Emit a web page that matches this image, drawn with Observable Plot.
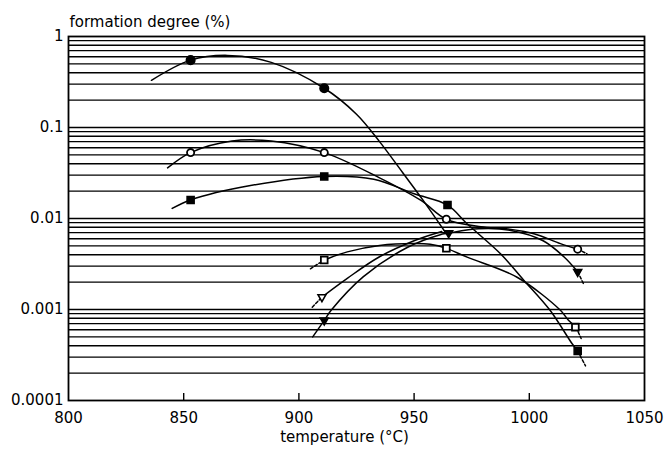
<!DOCTYPE html>
<html>
<head>
<meta charset="utf-8">
<script src="https://cdn.jsdelivr.net/npm/d3@7"></script>
<script src="https://cdn.jsdelivr.net/npm/@observablehq/plot@0.6"></script>
<style>
  html, body { margin: 0; padding: 0; background: #fff; }
  #chart svg { display: block; }
</style>
</head>
<body>
<div id="chart"></div>
<script>
// ---------- texts & ticks ----------
const yTitle = "formation degree (%)";
const xTitle = "temperature (°C)";
const xTicks = [800, 850, 900, 950, 1000, 1050];
const xInnerTicks = [850, 900, 950, 1000];
const yTicks = [1, 0.1, 0.01, 0.001, 0.0001];
const yTickLabels = ["1", "0.1", "0.01", "0.001", "0.0001"];
const gridValues = [
  0.9, 0.8, 0.7, 0.6, 0.5, 0.4, 0.3, 0.2, 0.1,
  0.09, 0.08, 0.07, 0.06, 0.05, 0.04, 0.03, 0.02, 0.01,
  0.009, 0.008, 0.007, 0.006, 0.005, 0.004, 0.003, 0.002, 0.001,
  0.0009, 0.0008, 0.0007, 0.0006, 0.0005, 0.0004, 0.0003, 0.0002
];

// ---------- measured points (temperature, formation degree %) ----------
const filledCircleT = [853, 911];
const filledCircleV = [0.55, 0.27];
const openCircleT = [853, 911, 964, 1021];
const openCircleV = [0.053, 0.053, 0.0098, 0.0046];
const filledSquareT = [853, 911, 964.5, 1021];
const filledSquareV = [0.016, 0.029, 0.0141, 0.00035];
const openSquareT = [911, 964, 1020];
const openSquareV = [0.0035, 0.0047, 0.00064];
const openTriangleT = [910];
const openTriangleV = [0.00137];
const filledTriangleT = [911, 965, 1021];
const filledTriangleV = [0.00076, 0.0069, 0.0026];

// ---------- fitted curves ----------
const curveFilledCircle = [[836,0.33],[853,0.55],[869,0.62],[888,0.52],[911,0.27],[925,0.14],[935,0.07],[945,0.032],[955,0.0145],[964,0.0068]];
const curveOpenCircle = [[843,0.036],[853,0.053],[871,0.071],[888,0.071],[911,0.053],[935,0.028],[953,0.0158],[964,0.0098],[979,0.0081],[990,0.0077],[1002,0.0068],[1013.5,0.0053],[1021,0.0046]];
const curveFilledSquare = [[845,0.0129],[853,0.016],[879,0.023],[911,0.029],[932.5,0.027],[950,0.0187],[964.4,0.0141],[973,0.00875],[987.5,0.0041],[997.6,0.0021],[1009,0.00098],[1018.6,0.00042],[1021,0.00035]];
const curveOpenSquare = [[911,0.0035],[921,0.0043],[935,0.00505],[950,0.0053],[957,0.0052],[964,0.0047],[973,0.00376],[994.7,0.00226],[1013.5,0.00098],[1017,0.00076],[1020.3,0.00064]];
const curveOpenTriangle = [[910,0.00137],[921,0.0022],[935,0.0038],[950,0.0057],[962,0.0072]];
const curveFilledTriangle = [[906,0.0005],[911,0.00076],[914,0.00098],[928,0.0023],[947,0.0048],[961,0.0066],[965,0.0069],[978,0.0077],[992,0.0074],[1006,0.0057],[1015,0.0038],[1021,0.0026]];

// dashed end pieces
const dashOpenSquareStart = [[905,0.0028],[911,0.0035]];
const dashOpenTriangleStart = [[905.8,0.00106],[910,0.00137]];
const dashOpenCircleEnd = [[1021,0.0046],[1025,0.0041]];
const dashFilledTriangleEnd = [[1021,0.0026],[1023.6,0.0019]];
const dashOpenSquareEnd = [[1020.3,0.00064],[1022.5,0.00048]];
const dashFilledSquareEnd = [[1021,0.00035],[1024.4,0.00024]];

// ---------- build tables ----------
function toRows(pairs, key) { return pairs.map(([t, v]) => ({t, v, key})); }
const solidRows = [
  ...toRows(curveFilledCircle, "fc"), ...toRows(curveOpenCircle, "oc"),
  ...toRows(curveFilledSquare, "fs"), ...toRows(curveOpenSquare, "os"),
  ...toRows(curveOpenTriangle, "ot"), ...toRows(curveFilledTriangle, "ft")
];
const dashRows = [
  ...toRows(dashOpenSquareStart, "a"), ...toRows(dashOpenTriangleStart, "b"),
  ...toRows(dashOpenCircleEnd, "c"), ...toRows(dashFilledTriangleEnd, "d"),
  ...toRows(dashOpenSquareEnd, "e"), ...toRows(dashFilledSquareEnd, "f")
];
function pts(T, V) { return T.map((t, i) => ({t, v: V[i]})); }

const triangleDown = {
  draw(context, size) {
    const s = Math.sqrt(size / (3 * Math.sqrt(3) / 4));
    const h = s * Math.sqrt(3) / 2;
    context.moveTo(-s / 2, -h / 3);
    context.lineTo(s / 2, -h / 3);
    context.lineTo(0, 2 * h / 3);
    context.closePath();
  }
};

const lineStyle = {x: "t", y: "v", z: "key", stroke: "#000", strokeWidth: 1.5, curve: "catmull-rom"};

const chart = Plot.plot({
  width: 669,
  height: 468,
  marginLeft: 68,
  marginRight: 25,
  marginTop: 36,
  marginBottom: 68,
  style: {fontFamily: "'DejaVu Sans', sans-serif", fontSize: "15px", color: "#000", background: "#fff"},
  x: {domain: [800, 1050], ticks: xTicks, tickSize: 0, tickPadding: 12, label: null, tickFormat: d => String(d)},
  y: {type: "log", domain: [0.0001, 1], ticks: yTicks, tickSize: 0, tickPadding: 5, label: null,
      tickFormat: d => yTickLabels[yTicks.indexOf(d)] ?? ""},
  marks: [
    Plot.ruleY(gridValues, {stroke: "#000", strokeWidth: 1.4}),
    Plot.ruleX(xInnerTicks, {stroke: "#000", strokeWidth: 1.4, insetTop: 357}),
    Plot.frame({stroke: "#000", strokeWidth: 1.8}),
    Plot.line(solidRows, lineStyle),
    Plot.line(dashRows, {...lineStyle, curve: "linear", strokeDasharray: "3,2"}),
    Plot.dot(pts(filledCircleT, filledCircleV), {x: "t", y: "v", symbol: "circle", r: 4.3, fill: "#000", stroke: "#000"}),
    Plot.dot(pts(openCircleT, openCircleV), {x: "t", y: "v", symbol: "circle", r: 3.6, fill: "#fff", stroke: "#000", strokeWidth: 1.8}),
    Plot.dot(pts(filledSquareT, filledSquareV), {x: "t", y: "v", symbol: "square", r: 4, fill: "#000", stroke: "#000"}),
    Plot.dot(pts(openSquareT, openSquareV), {x: "t", y: "v", symbol: "square", r: 3.8, fill: "#fff", stroke: "#000", strokeWidth: 1.8}),
    Plot.dot(pts(openTriangleT, openTriangleV), {x: "t", y: "v", symbol: triangleDown, r: 5, fill: "#fff", stroke: "#000", strokeWidth: 1.6}),
    Plot.dot(pts(filledTriangleT, filledTriangleV), {x: "t", y: "v", symbol: triangleDown, r: 5.2, fill: "#000", stroke: "#000"}),
    Plot.text([yTitle], {frameAnchor: "top-left", dx: 1, dy: -20, textAnchor: "start", fontSize: 15}),
    Plot.text([xTitle], {frameAnchor: "bottom", dx: -12, dy: 41, fontSize: 15})
  ]
});
document.getElementById("chart").appendChild(chart);
</script>
</body>
</html>
